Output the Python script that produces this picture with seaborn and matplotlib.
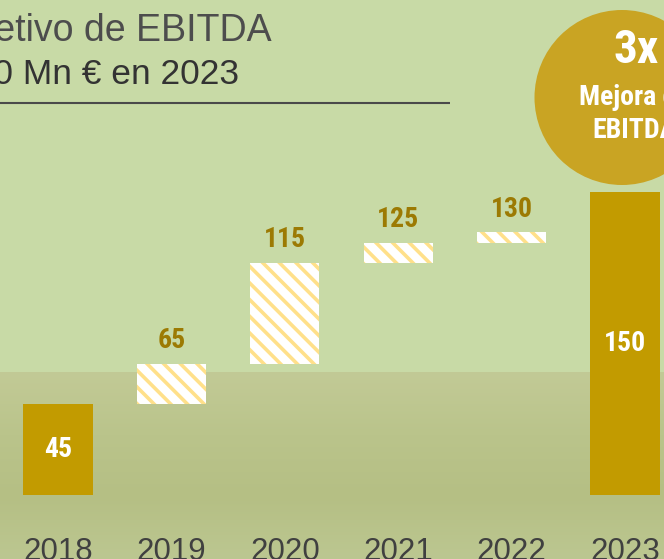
import matplotlib
matplotlib.use('Agg')

import numpy as np
import matplotlib.pyplot as plt
from matplotlib import font_manager
from matplotlib.colors import LinearSegmentedColormap
from matplotlib.patches import Circle
import seaborn as sns

# data
years = ['2018', '2019', '2020', '2021', '2022', '2023']
total_years = ['2018', '2023']
totals = [45, 150]
step_years = ['2019', '2020', '2021', '2022']
step_from = [45, 65, 115, 125]
step_to = [65, 115, 125, 130]
title_1 = 'Objetivo de EBITDA'
title_2 = '150 Mn € en 2023'
badge_big = '3x'
badge_small = 'Mejora de\nEBITDA'

W, H = 664, 559
GOLD = '#C29B00'

# pick a narrow sans (Arial Narrow look-alike) from what is installed
installed = {f.name for f in font_manager.fontManager.ttflist}
prefs = ['Liberation Sans Narrow', 'Arial Narrow', 'Roboto Condensed', 'Nimbus Sans Narrow',
         'Archivo Narrow', 'Barlow Semi Condensed', 'Asap Condensed']
NARROW = [n for n in prefs if n in installed][:1] + ['Liberation Sans', 'DejaVu Sans']

plt.rcParams['hatch.linewidth'] = 2.6

fig = plt.figure(figsize=(W / 100, H / 100), dpi=100)
fig.patch.set_facecolor('#C8DAA6')

# decoration layer in pixel coordinates
bg = fig.add_axes([0, 0, 1, 1], zorder=0)
bg.set_xlim(0, W)
bg.set_ylim(H, 0)
bg.axis('off')

grass = LinearSegmentedColormap.from_list('grass', ['#C2CA96', '#BAC48B', '#B5BF84', '#BCC791'])
bg.imshow(np.linspace(0, 1, 200)[:, None], cmap=grass, aspect='auto',
          extent=[0, W, H, 372], zorder=0)
bg.plot([0, 450], [103, 103], color='#4A4A4A', lw=1.5, solid_capstyle='butt')
bg.add_patch(Circle((622, 97.5), 87.5, color='#C9A423', lw=0))

bg.text(272, 41, title_1, ha='right', va='baseline', fontsize=27,
        family='Liberation Sans', color='#4D4D4D')
bg.text(239, 84, title_2, ha='right', va='baseline', fontsize=25.5,
        family='Liberation Sans', color='#333333')
bg.text(636, 50, badge_big, ha='center', va='center', fontsize=34,
        family=NARROW, weight='bold', color='white')
bg.text(634, 114, badge_small, ha='center', va='center', fontsize=20,
        family=NARROW, weight='bold', color='white', linespacing=1.25)

# chart layer
ax = fig.add_axes([0, 64 / H, 1, 495 / H], zorder=1)
ax.patch.set_alpha(0)

sns.barplot(x=total_years, y=totals, order=years, color=GOLD, saturation=1,
            width=0.61, linewidth=0, ax=ax)
heights = [b - a for a, b in zip(step_from, step_to)]
sns.barplot(x=step_years, y=heights, order=years, bottom=step_from, color='white',
            saturation=1, width=0.61, hatch='\\\\', edgecolor='#FFE08A',
            linewidth=0, ax=ax)

for yr, v in zip(total_years, totals):
    ax.text(years.index(yr), v / 2, str(v), ha='center', va='center',
            fontsize=20, family=NARROW, weight='bold', color='white')
for yr, v in zip(step_years, step_to):
    ax.text(years.index(yr), v + 11.5, str(v), ha='center', va='center',
            fontsize=20, family=NARROW, weight='bold', color='#9C7A03')

ax.set_xlim(-58 / 113.4, (W - 58) / 113.4)
ax.set_ylim(0, 495 / 2.02)
ax.set_yticks([])
ax.set_xlabel('')
ax.set_ylabel('')
ax.tick_params(axis='x', length=0, pad=30)
for lab in ax.get_xticklabels():
    lab.set_fontfamily('Liberation Sans')
    lab.set_fontsize(22.5)
    lab.set_color('#404040')
for s in ax.spines.values():
    s.set_visible(False)

fig.savefig('out.png', dpi=100, facecolor=fig.get_facecolor())
